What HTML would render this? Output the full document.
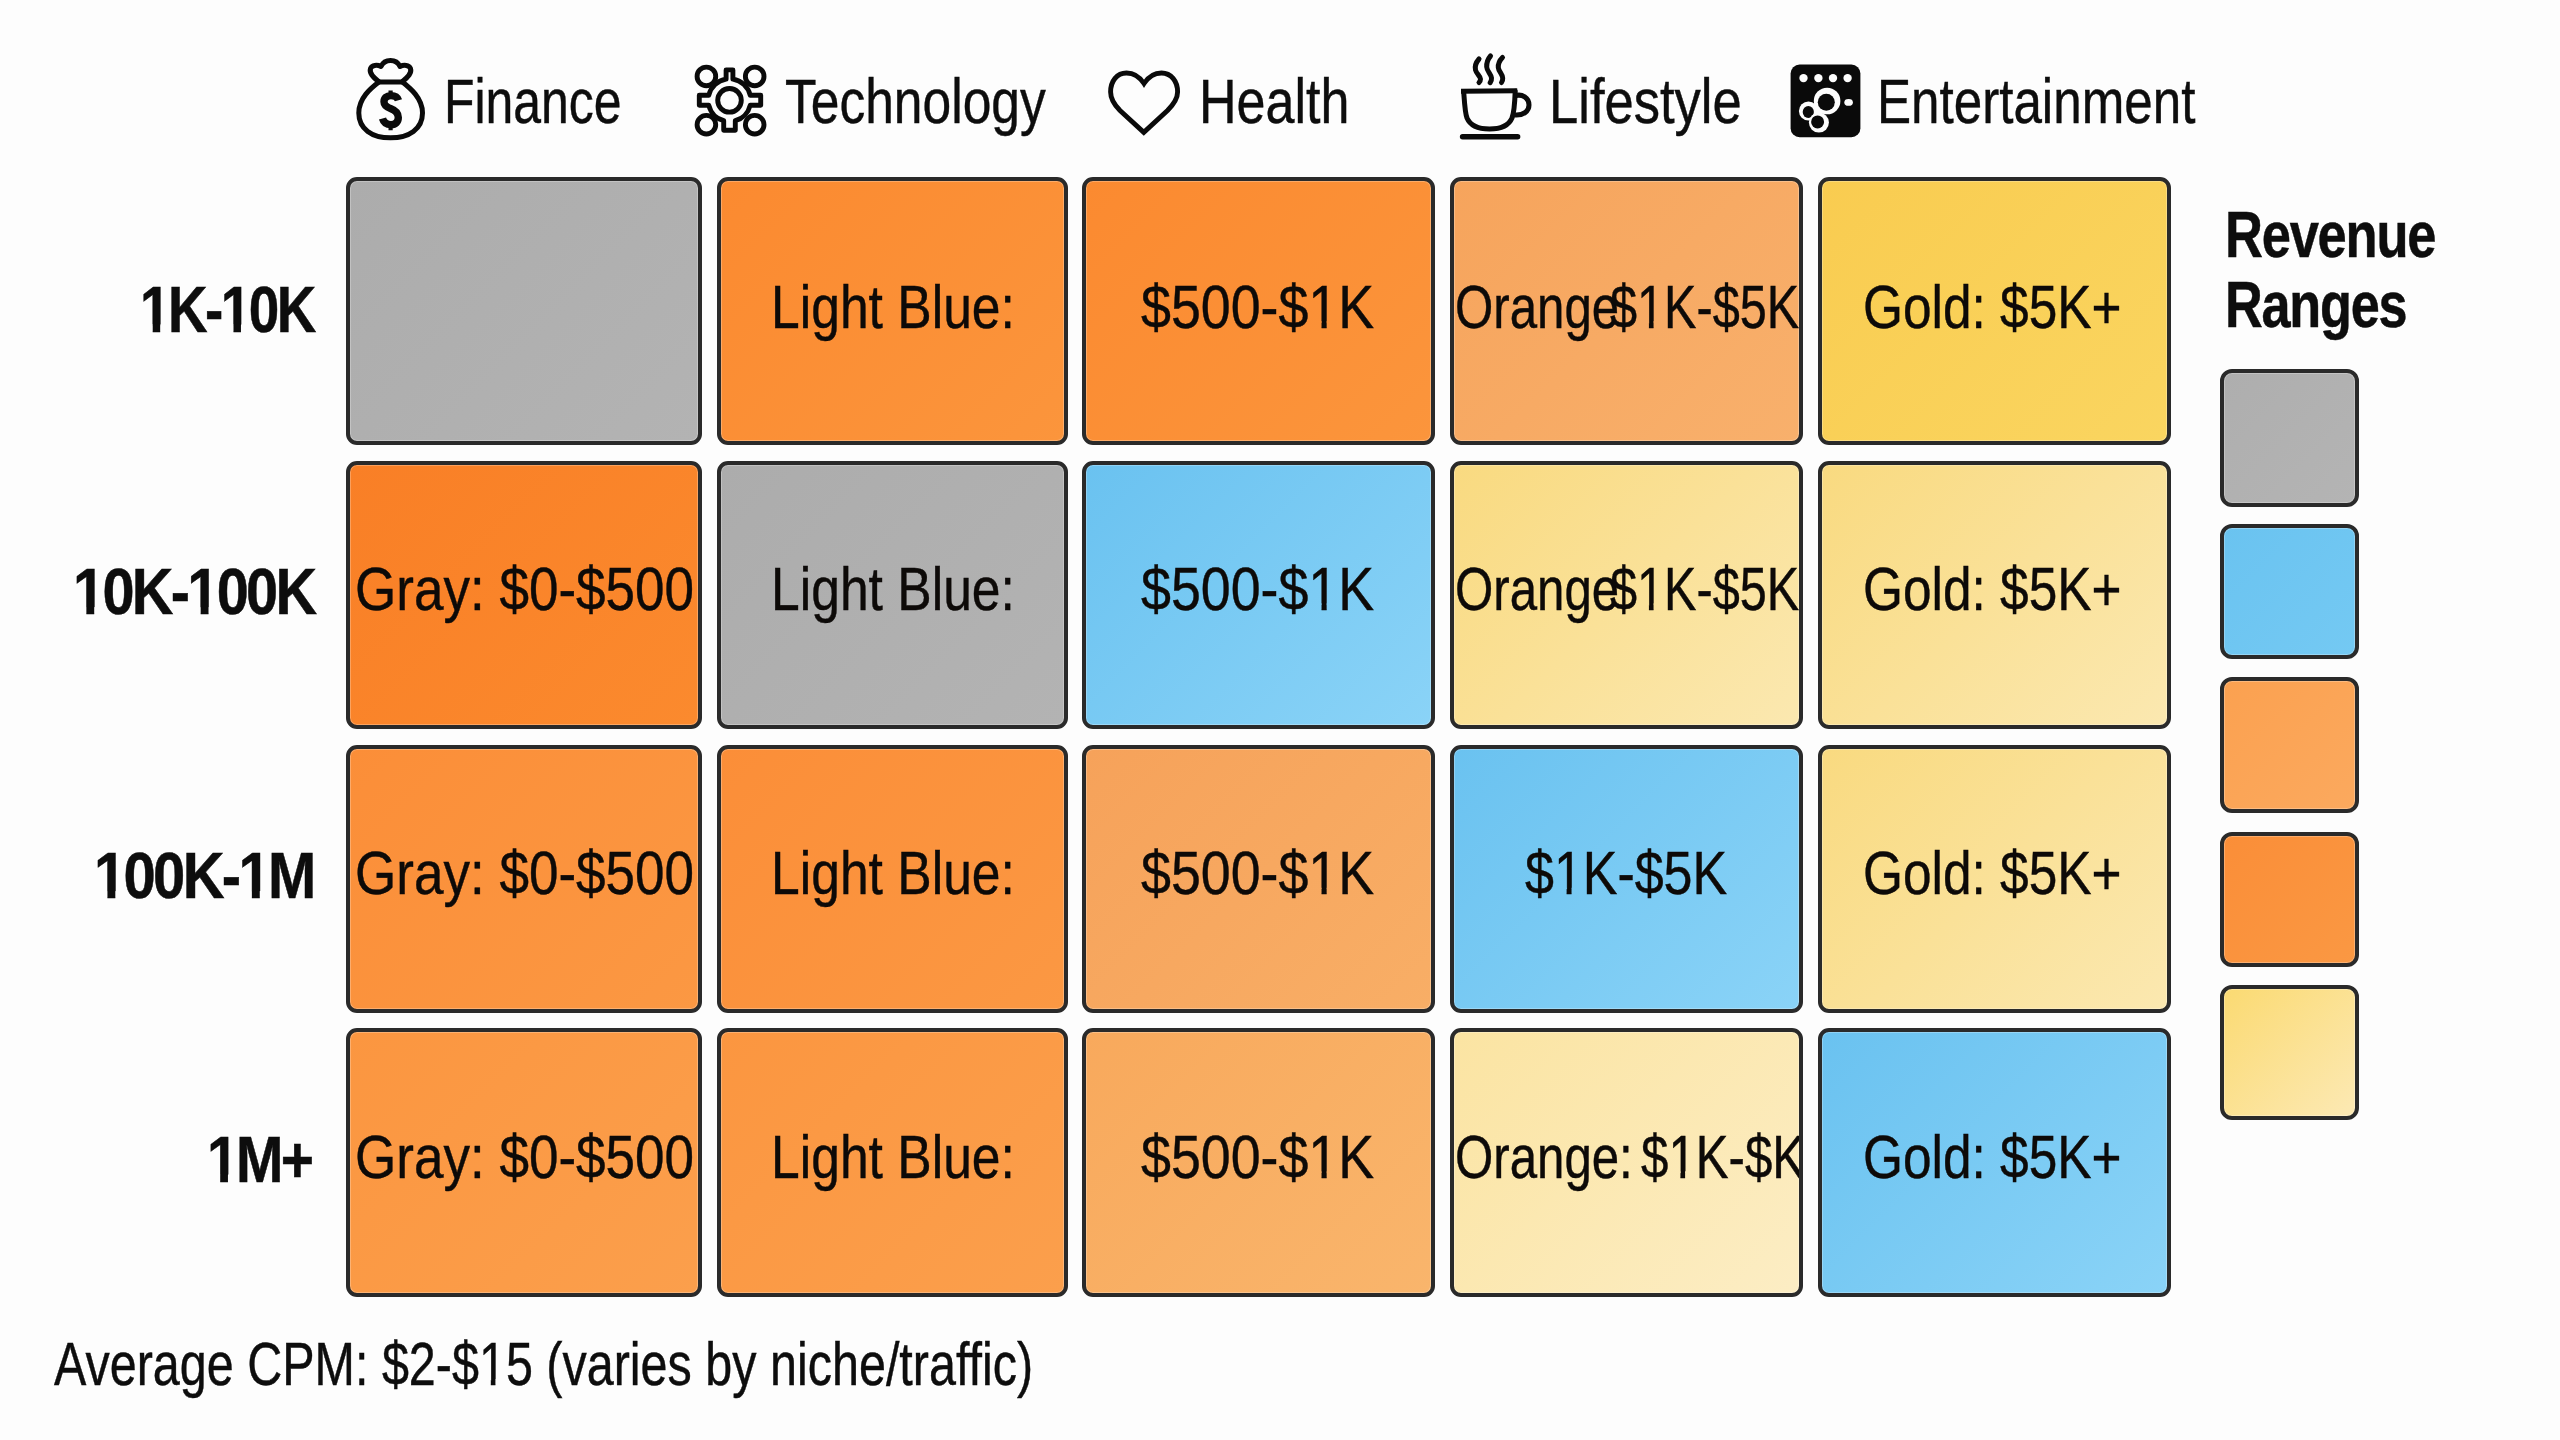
<!DOCTYPE html>
<html><head><meta charset="utf-8"><style>
html,body{margin:0;padding:0;background:#fdfdfd;}
body{width:2560px;height:1440px;position:relative;overflow:hidden;font-family:"Liberation Sans",sans-serif;color:#0d0d0d;}
.t{position:absolute;white-space:pre;transform-origin:0 0;-webkit-text-stroke:0.45px currentColor;}
.b{-webkit-text-stroke:0.5px currentColor;letter-spacing:-3px;}
.one{display:inline-block;clip-path:polygon(-1em -1em,2em -1em,2em .74em,.34em .74em,.34em 2em,.245em 2em,.245em .74em,-1em .74em);}
.oneb{display:inline-block;clip-path:polygon(-1em -1em,2em -1em,2em .74em,.368em .74em,.368em 2em,.232em 2em,.232em .74em,-1em .74em);}
.cell{position:absolute;box-sizing:border-box;border:4px solid #2a2a2a;border-radius:11px;overflow:hidden;
 box-shadow: inset 0 0 0 1px rgba(255,255,255,0.25);}
.cell .t{color:#0d0a08;}
.lg{position:absolute;box-sizing:border-box;border:4px solid #2a2a2a;border-radius:12px;
 box-shadow: inset 0 0 0 1px rgba(255,255,255,0.25);}
svg{position:absolute;overflow:visible;}
</style></head><body>

<div class="t" style="left:443.8px;top:70.6px;font-size:62.2px;line-height:62.2px;font-weight:normal;transform:scaleX(0.8023);">Finance</div>
<div class="t" style="left:785.1px;top:70.6px;font-size:62.2px;line-height:62.2px;font-weight:normal;transform:scaleX(0.8288);">Technology</div>
<div class="t" style="left:1199.4px;top:70.6px;font-size:62.2px;line-height:62.2px;font-weight:normal;transform:scaleX(0.8368);">Health</div>
<div class="t" style="left:1548.9px;top:70.6px;font-size:62.2px;line-height:62.2px;font-weight:normal;transform:scaleX(0.8445);">Lifestyle</div>
<div class="t" style="left:1877.2px;top:70.6px;font-size:62.2px;line-height:62.2px;font-weight:normal;transform:scaleX(0.8223);">Entertainment</div>
<div class="t b" style="left:140.0px;top:276.5px;font-size:65px;line-height:65px;font-weight:bold;transform:scaleX(0.8436);"><span class="oneb">1</span>K-<span class="oneb">1</span>0K</div>
<div class="t b" style="left:73.1px;top:558.8px;font-size:65px;line-height:65px;font-weight:bold;transform:scaleX(0.8867);"><span class="oneb">1</span>0K-<span class="oneb">1</span>00K</div>
<div class="t b" style="left:94.2px;top:843.0px;font-size:65px;line-height:65px;font-weight:bold;transform:scaleX(0.8913);"><span class="oneb">1</span>00K-<span class="oneb">1</span>M</div>
<div class="t b" style="left:206.5px;top:1126.5px;font-size:65px;line-height:65px;font-weight:bold;transform:scaleX(0.8759);"><span class="oneb">1</span>M+</div>
<div class="cell" style="left:346px;top:177px;width:355.5px;height:268.0px;background:linear-gradient(135deg,#acacac,#b3b3b3);"></div>
<div class="cell" style="left:717px;top:177px;width:350.5px;height:268.0px;background:linear-gradient(135deg,#fb8a30,#fb953c);"><div class="t" style="left:49.8px;top:94.5px;font-size:61.5px;line-height:61.5px;font-weight:normal;transform:scaleX(0.8393);">Light Blue:</div></div>
<div class="cell" style="left:1082.3px;top:177px;width:352.3px;height:268.0px;background:linear-gradient(135deg,#fb8a30,#fb953c);"><div class="t" style="left:54.8px;top:94.5px;font-size:61.5px;line-height:61.5px;font-weight:normal;transform:scaleX(0.8740);">$500-$<span class="one">1</span>K</div></div>
<div class="cell" style="left:1450px;top:177px;width:353.0px;height:268.0px;background:linear-gradient(135deg,#f6a45c,#f8b06c);"><div class="t" style="left:1.1px;top:94.5px;font-size:61.5px;line-height:61.5px;font-weight:normal;transform:scaleX(0.8000);">Orange</div><div class="t" style="left:155.9px;top:94.5px;font-size:61.5px;line-height:61.5px;font-weight:normal;transform:scaleX(0.7900);">$<span class="one">1</span>K-$5K</div></div>
<div class="cell" style="left:1818px;top:177px;width:353.0px;height:268.0px;background:linear-gradient(135deg,#f9cc50,#fad560);"><div class="t" style="left:41.4px;top:94.5px;font-size:61.5px;line-height:61.5px;font-weight:normal;transform:scaleX(0.8353);">Gold: $5K+</div></div>
<div class="cell" style="left:346px;top:461px;width:355.5px;height:268.0px;background:linear-gradient(135deg,#f97f26,#fb8a2e);"><div class="t" style="left:5.2px;top:92.8px;font-size:61.5px;line-height:61.5px;font-weight:normal;transform:scaleX(0.8626);">Gray: $0-$500</div></div>
<div class="cell" style="left:717px;top:461px;width:350.5px;height:268.0px;background:linear-gradient(135deg,#acacac,#b3b3b3);"><div class="t" style="left:49.8px;top:92.8px;font-size:61.5px;line-height:61.5px;font-weight:normal;transform:scaleX(0.8393);">Light Blue:</div></div>
<div class="cell" style="left:1082.3px;top:461px;width:352.3px;height:268.0px;background:linear-gradient(135deg,#6ac2f0,#8ad3f7);"><div class="t" style="left:54.8px;top:92.8px;font-size:61.5px;line-height:61.5px;font-weight:normal;transform:scaleX(0.8740);">$500-$<span class="one">1</span>K</div></div>
<div class="cell" style="left:1450px;top:461px;width:353.0px;height:268.0px;background:linear-gradient(135deg,#f9da80,#fbe8b0);"><div class="t" style="left:1.1px;top:92.8px;font-size:61.5px;line-height:61.5px;font-weight:normal;transform:scaleX(0.8000);">Orange</div><div class="t" style="left:155.9px;top:92.8px;font-size:61.5px;line-height:61.5px;font-weight:normal;transform:scaleX(0.7900);">$<span class="one">1</span>K-$5K</div></div>
<div class="cell" style="left:1818px;top:461px;width:353.0px;height:268.0px;background:linear-gradient(135deg,#f9da80,#fbe8b0);"><div class="t" style="left:41.4px;top:92.8px;font-size:61.5px;line-height:61.5px;font-weight:normal;transform:scaleX(0.8353);">Gold: $5K+</div></div>
<div class="cell" style="left:346px;top:744.5px;width:355.5px;height:268.0px;background:linear-gradient(135deg,#fb8e38,#fb9843);"><div class="t" style="left:5.2px;top:93.8px;font-size:61.5px;line-height:61.5px;font-weight:normal;transform:scaleX(0.8626);">Gray: $0-$500</div></div>
<div class="cell" style="left:717px;top:744.5px;width:350.5px;height:268.0px;background:linear-gradient(135deg,#fb8e38,#fb9843);"><div class="t" style="left:49.8px;top:93.8px;font-size:61.5px;line-height:61.5px;font-weight:normal;transform:scaleX(0.8393);">Light Blue:</div></div>
<div class="cell" style="left:1082.3px;top:744.5px;width:352.3px;height:268.0px;background:linear-gradient(135deg,#f6a25a,#f8ae66);"><div class="t" style="left:54.8px;top:93.8px;font-size:61.5px;line-height:61.5px;font-weight:normal;transform:scaleX(0.8740);">$500-$<span class="one">1</span>K</div></div>
<div class="cell" style="left:1450px;top:744.5px;width:353.0px;height:268.0px;background:linear-gradient(135deg,#6ac2f0,#8ad3f7);"><div class="t" style="left:71.1px;top:93.8px;font-size:61.5px;line-height:61.5px;font-weight:normal;transform:scaleX(0.8443);">$<span class="one">1</span>K-$5K</div></div>
<div class="cell" style="left:1818px;top:744.5px;width:353.0px;height:268.0px;background:linear-gradient(135deg,#f9da80,#fbe8b0);"><div class="t" style="left:41.4px;top:93.8px;font-size:61.5px;line-height:61.5px;font-weight:normal;transform:scaleX(0.8353);">Gold: $5K+</div></div>
<div class="cell" style="left:346px;top:1028.3px;width:355.5px;height:268.4px;background:linear-gradient(135deg,#fb9640,#fb9f4c);"><div class="t" style="left:5.2px;top:93.5px;font-size:61.5px;line-height:61.5px;font-weight:normal;transform:scaleX(0.8626);">Gray: $0-$500</div></div>
<div class="cell" style="left:717px;top:1028.3px;width:350.5px;height:268.4px;background:linear-gradient(135deg,#fb9640,#fb9f4c);"><div class="t" style="left:49.8px;top:93.5px;font-size:61.5px;line-height:61.5px;font-weight:normal;transform:scaleX(0.8393);">Light Blue:</div></div>
<div class="cell" style="left:1082.3px;top:1028.3px;width:352.3px;height:268.4px;background:linear-gradient(135deg,#f8a95c,#f9b56c);"><div class="t" style="left:54.8px;top:93.5px;font-size:61.5px;line-height:61.5px;font-weight:normal;transform:scaleX(0.8740);">$500-$<span class="one">1</span>K</div></div>
<div class="cell" style="left:1450px;top:1028.3px;width:353.0px;height:268.4px;background:linear-gradient(135deg,#fbe4a2,#fcedc4);"><div class="t" style="left:1.1px;top:93.5px;font-size:61.5px;line-height:61.5px;font-weight:normal;transform:scaleX(0.8000);">Orange:</div><div class="t" style="left:187.1px;top:93.5px;font-size:61.5px;line-height:61.5px;font-weight:normal;transform:scaleX(0.8000);">$<span class="one">1</span>K-$K</div></div>
<div class="cell" style="left:1818px;top:1028.3px;width:353.0px;height:268.4px;background:linear-gradient(135deg,#6ac2f0,#8ad3f7);"><div class="t" style="left:41.4px;top:93.5px;font-size:61.5px;line-height:61.5px;font-weight:normal;transform:scaleX(0.8353);">Gold: $5K+</div></div>
<div class="t b" style="left:2224.5px;top:202.7px;font-size:64px;line-height:64px;font-weight:bold;transform:scaleX(0.8202);letter-spacing:-1.5px;">Revenue</div>
<div class="t b" style="left:2224.5px;top:273.1px;font-size:64px;line-height:64px;font-weight:bold;transform:scaleX(0.8161);letter-spacing:-1.5px;">Ranges</div>
<div class="lg" style="left:2220px;top:369.4px;width:138.7px;height:137.5px;background:linear-gradient(135deg,#aeaeae,#b4b4b4);"></div>
<div class="lg" style="left:2220px;top:523.8px;width:138.7px;height:135.2px;background:linear-gradient(135deg,#6ac3f0,#74c9f3);"></div>
<div class="lg" style="left:2220px;top:677px;width:138.7px;height:136.0px;background:linear-gradient(135deg,#fba150,#fba95e);"></div>
<div class="lg" style="left:2220px;top:832px;width:138.7px;height:135.0px;background:linear-gradient(135deg,#fa8e38,#fa9843);"></div>
<div class="lg" style="left:2220px;top:985px;width:138.7px;height:135.0px;background:linear-gradient(135deg,#fbda72,#fce9b4);"></div>
<div class="t" style="left:53.7px;top:1334.4px;font-size:60.6px;line-height:60.6px;font-weight:normal;transform:scaleX(0.8002);">Average CPM: $2-$<span class="one">1</span>5 (varies by niche/traffic)</div>
<!-- money bag -->
<svg style="left:340px;top:50px" width="100" height="100" viewBox="0 0 100 100">
 <g fill="none" stroke="#0a0a0a" stroke-width="5" stroke-linejoin="round" stroke-linecap="round">
  <path d="M38.5,31.5 C33,27 29,23 30.5,18.5 C32,15 37,14.5 41,16.5 C43.5,11 47,10.5 50.5,10.5 C54,10.5 57.5,11 60,16.5 C64,14.5 69,15 70.5,18.5 C72,23 68,27 62.5,31.5"/>
  <path d="M38.9,32 L62.5,32"/>
  <path d="M38.9,32 C31,38 18.8,48 18.8,63 C18.8,79 32,87.8 50.5,87.8 C69,87.8 82.5,79 82.5,63 C82.5,48 70,38 62.5,32"/>
 </g>
 <g fill="none" stroke="#0a0a0a">
  <path d="M58.5,50.3 C57.5,47 54.8,45.6 51,45.6 C46.5,45.6 44,48 44,51.8 C44,56 47.5,57.5 51,58.8 C55.5,60.5 58.3,62.5 58.3,67.5 C58.3,72 55.5,74.6 51,74.6 C46.3,74.6 43.5,72 42.5,68.5" stroke-width="7.4"/>
  <path d="M50.6,40.4 L50.6,46.5 M50.6,74 L50.6,80.3" stroke-width="4.2"/>
 </g>
</svg>
<!-- tech gear -->
<svg style="left:680px;top:50px" width="100" height="100" viewBox="0 0 100 100">
 <g fill="#fdfdfd" stroke="#0a0a0a" stroke-width="4.9">
  <circle cx="26.4" cy="26.4" r="9.3"/>
  <circle cx="74.7" cy="26.4" r="9.3"/>
  <circle cx="26.4" cy="74.7" r="9.3"/>
  <circle cx="74.7" cy="74.7" r="9.3"/>
 </g>
 <path d="M46.10,29.17 L46.10,19.90 L52.90,19.90 L52.90,29.17 A21.3,21.3 0 0 1 70.20,45.20 L80.70,45.20 L80.70,55.20 L70.20,55.20 A21.3,21.3 0 0 1 55.30,70.70 L55.30,80.20 L43.70,80.20 L43.70,70.70 A21.3,21.3 0 0 1 28.80,55.20 L19.30,55.20 L19.30,45.20 L28.80,45.20 A21.3,21.3 0 0 1 46.10,29.17 Z" fill="#fdfdfd" stroke="#0a0a0a" stroke-width="4.9" stroke-linejoin="round"/>
 <circle cx="49.5" cy="50.3" r="11.8" fill="none" stroke="#0a0a0a" stroke-width="4.9"/>
</svg>
<!-- heart -->
<svg style="left:1095px;top:50px" width="100" height="100" viewBox="0 0 100 100">
 <path d="M49,33.5 C44,26 38,23 31.5,23 C22,23 15.6,31 15.6,42 C15.6,49 19,54.5 25,60.5 L48.8,82.3 L72.5,60.5 C78.5,54.5 82.6,49 82.6,42 C82.6,31 76,23 66.5,23 C60,23 54,26 49,33.5 Z" fill="none" stroke="#0a0a0a" stroke-width="4.9" stroke-linejoin="miter"/>
</svg>
<!-- coffee -->
<svg style="left:1445px;top:45px" width="100" height="100" viewBox="0 0 100 100">
 <g fill="none" stroke="#0a0a0a" stroke-width="5" stroke-linecap="round" stroke-linejoin="round">
  <path d="M34,14 C31,17.5 29.5,21 30.5,25 C31.5,29 35.5,31 35.5,34 C35.5,35.5 35,36.5 34,37.5"/>
  <path d="M45.5,11 C42.5,14.5 41.5,18 41.7,22 C42,26.5 46,29 46.5,33 C46.7,35 46,36.5 45.2,37.7"/>
  <path d="M57.5,12.5 C55,15 53,18.5 53.3,22.5 C53.6,26.5 57.5,29 57.7,33 C57.8,35 57.3,36.5 56.5,37.5"/>
  <path d="M16,46.2 L72.2,45.8" stroke-linecap="butt"/>
  <path d="M18.7,46.5 C19.5,58 20,68 22,73 C25,80 33,84 44.5,84 C56,84 64,80 67,73 C69,68 69.8,58 70.2,46.2"/>
  <path d="M70.8,50.5 C77,49 84,52.5 84,60 C84,66.5 78,70.5 70.2,70"/>
  <path d="M17.6,91.7 L72.6,91.7" stroke-width="5.5"/>
 </g>
</svg>
<!-- entertainment -->
<svg style="left:1775px;top:50px" width="100" height="100" viewBox="0 0 100 100">
 <rect x="15.6" y="14.6" width="69.8" height="72.6" rx="9" fill="#0a0a0a"/>
 <g fill="#fdfdfd">
  <circle cx="28.5" cy="28.1" r="4.2"/><circle cx="43.4" cy="28.1" r="4.2"/><circle cx="58" cy="28.1" r="4.2"/><circle cx="72.6" cy="28.1" r="4.2"/>
  <ellipse cx="73.6" cy="52.4" rx="4.3" ry="3.4"/>
  <circle cx="52.1" cy="51" r="13.3"/>
  <circle cx="33.5" cy="61" r="9.6"/>
  <polygon points="52,51 33,61 44,72.6"/>
 </g>
 <ellipse cx="33.3" cy="62" rx="5.6" ry="5.9" fill="#0a0a0a"/>
 <circle cx="51.3" cy="52.2" r="8.5" fill="#0a0a0a"/>
 <circle cx="43.9" cy="72.6" r="10" fill="#fdfdfd"/>
 <circle cx="42.6" cy="71.9" r="6.5" fill="#0a0a0a"/>
</svg>

</body></html>
